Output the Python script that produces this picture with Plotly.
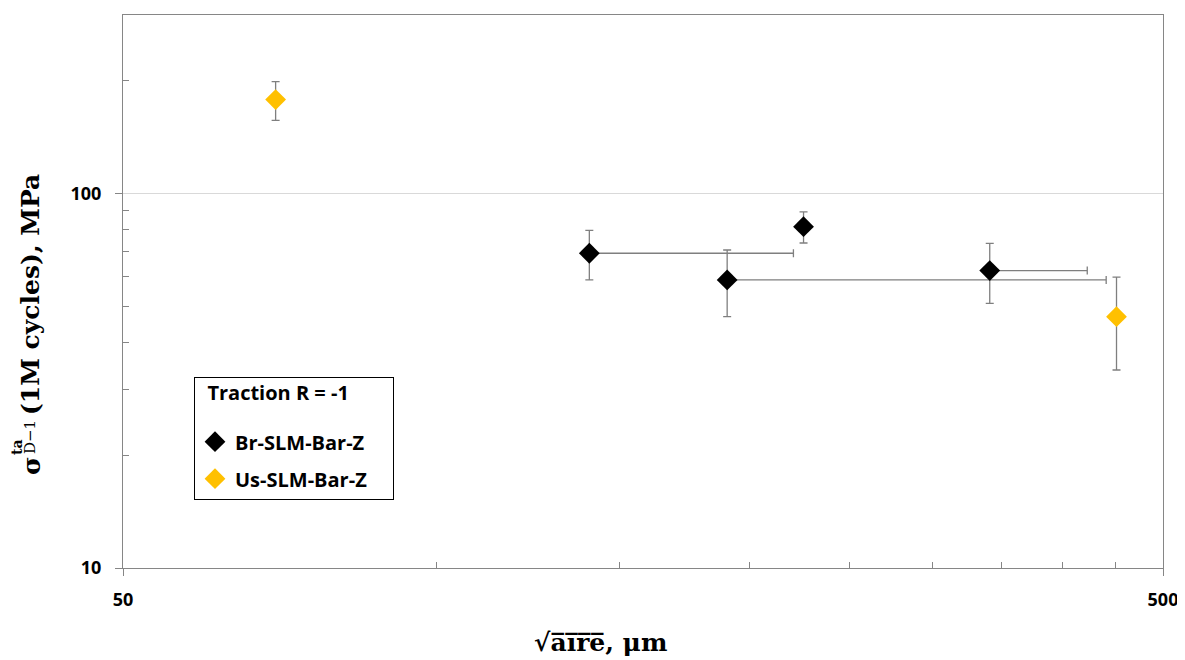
import plotly.graph_objects as go

# ---- data ----
br_x = [140.4, 190.5, 225.6, 340.7]
br_y = [69.3, 58.8, 81.6, 62.3]
br_y_err_plus = [10.5, 11.9, 7.8, 11.3]
br_y_err_minus = [10.5, 11.9, 7.8, 11.4]
br_x_err_plus = [80.2, 250.4, 0.0, 82.1]
br_x_err_minus = [0.0, 0.0, 0.0, 0.0]

us_x = [70.1, 451.1]
us_y = [178.3, 46.9]
us_y_err_plus = [20.9, 12.9]
us_y_err_minus = [21.3, 13.1]

x_major_ticks = [50, 500]
x_minor_ticks = [100, 150, 200, 250, 300, 350, 400, 450]
y_major_ticks = [10, 100]
y_minor_ticks = [20, 30, 40, 50, 60, 70, 80, 90, 200]

legend_title = "Traction R = -1"
br_name = "Br-SLM-Bar-Z"
us_name = "Us-SLM-Bar-Z"

# ---- styles ----
ERR_COL = "#7f7f7f"
AXIS_COL = "#868686"
TICK_FONT = dict(family="Open Sans", size=18, color="#000000", weight="bold")
SERIF = "DejaVu Serif"
NB = "\u00a0"

fig = go.Figure()

fig.add_trace(go.Scatter(
    x=br_x, y=br_y, mode="markers", name=br_name, legendgroup="br",
    marker=dict(symbol="diamond", size=16, color="#000000"),
    error_y=dict(type="data", symmetric=False, array=br_y_err_plus,
                 arrayminus=br_y_err_minus, color=ERR_COL, thickness=1.3, width=4),
    error_x=dict(type="data", symmetric=False, array=br_x_err_plus,
                 arrayminus=br_x_err_minus, color=ERR_COL, thickness=1.3, width=4),
))
fig.add_trace(go.Scatter(
    x=us_x, y=us_y, mode="markers", name=us_name, legendgroup="us",
    marker=dict(symbol="diamond", size=16, color="#FFC000"),
    error_y=dict(type="data", symmetric=False, array=us_y_err_plus,
                 arrayminus=us_y_err_minus, color=ERR_COL, thickness=1.3, width=4),
))

# the page body adds ~8px offset; compensate so the plot area lands at 123..1163 x 15..568
fig.update_layout(
    width=1177, height=652,
    margin=dict(l=115, r=22, t=7, b=92, autoexpand=False),
    paper_bgcolor="white", plot_bgcolor="white",
    showlegend=True,
    legend=dict(
        x=(194 - 123) / 1040.0, y=(568 - 377) / 553.0, xanchor="left", yanchor="top",
        bordercolor="#000000", borderwidth=1, bgcolor="white",
        title=dict(text="<span style='font-size:20px'><b>" + NB * 2 + legend_title
                        + NB * 8 + "</b></span><br>" + NB,
                   font=dict(family="Open Sans", size=17, color="#000000")),
        font=dict(family="Open Sans", size=20, color="#000000", weight="bold"),
        tracegroupgap=8,
    ),
    xaxis=dict(
        type="log", range=[1.69897, 2.69897], automargin=False,
        tickmode="array", tickvals=x_major_ticks, ticktext=[str(v) for v in x_major_ticks],
        ticks="outside", ticklen=7, tickcolor=AXIS_COL, tickwidth=1,
        tickfont=TICK_FONT, ticklabelstandoff=8,
        showline=True, linecolor=AXIS_COL, linewidth=1, mirror=True,
        showgrid=False, zeroline=False,
        minor=dict(tickvals=x_minor_ticks, ticks="inside", ticklen=6,
                   tickcolor=AXIS_COL, showgrid=False),
    ),
    yaxis=dict(
        type="log", range=[1, 2.4771], automargin=False,
        tickmode="array", tickvals=y_major_ticks, ticktext=[str(v) for v in y_major_ticks],
        ticks="outside", ticklen=7, tickcolor=AXIS_COL, tickwidth=1,
        tickfont=TICK_FONT, ticklabelstandoff=10,
        showline=True, linecolor=AXIS_COL, linewidth=1, mirror=True,
        showgrid=True, gridcolor="#d9d9d9", gridwidth=1, zeroline=False,
        minor=dict(tickvals=y_minor_ticks, ticks="inside", ticklen=6,
                   tickcolor=AXIS_COL, showgrid=False),
    ),
)

def px_x(px):
    return (px - 123) / 1040.0

def px_y(py):
    return (568 - py) / 553.0

# x-axis title
fig.add_annotation(
    text="<b>√a\u0305i\u0305r\u0305e\u0305, μm</b>",
    xref="paper", yref="paper", x=px_x(600), y=px_y(642),
    xanchor="center", yanchor="middle", showarrow=False,
    font=dict(family=SERIF, size=25, color="#000000"),
)

# y-axis title pieces (rotated)
fig.add_annotation(
    text="<b>(1M cycles), MPa</b>",
    xref="paper", yref="paper", x=px_x(30), y=px_y(295),
    xanchor="center", yanchor="middle", showarrow=False, textangle=-90,
    font=dict(family=SERIF, size=25, color="#000000"),
)
fig.add_annotation(
    text="<b>σ</b>",
    xref="paper", yref="paper", x=px_x(31), y=px_y(466),
    xanchor="center", yanchor="middle", showarrow=False, textangle=-90,
    font=dict(family=SERIF, size=25, color="#000000"),
)
fig.add_annotation(
    text="<b>ta</b>",
    xref="paper", yref="paper", x=px_x(17), y=px_y(447),
    xanchor="center", yanchor="middle", showarrow=False, textangle=-90,
    borderpad=0, font=dict(family=SERIF, size=14, color="#000000"),
)
fig.add_annotation(
    text="D−1",
    xref="paper", yref="paper", x=px_x(30), y=px_y(437),
    xanchor="center", yanchor="middle", showarrow=False, textangle=-90,
    borderpad=0, font=dict(family=SERIF, size=15, color="#000000"),
)

fig.write_html("out.html")
